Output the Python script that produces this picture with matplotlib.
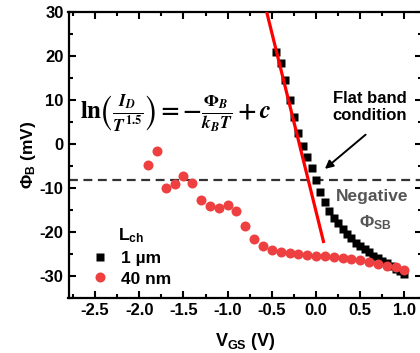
import numpy as np
import matplotlib
matplotlib.use('Agg')
import matplotlib.pyplot as plt
from matplotlib.ticker import MultipleLocator

plt.rcParams['font.family'] = ['Liberation Sans', 'DejaVu Sans']
plt.rcParams['font.weight'] = 'bold'
plt.rcParams['axes.labelweight'] = 'bold'
plt.rcParams['axes.unicode_minus'] = False
plt.rcParams['mathtext.fontset'] = 'custom'
plt.rcParams['mathtext.rm'] = 'Liberation Sans:bold'
plt.rcParams['mathtext.bf'] = 'Liberation Sans:bold'
plt.rcParams['mathtext.it'] = 'Liberation Sans:bold:italic'
plt.rcParams['mathtext.default'] = 'rm'

# 1 um channel
vgs_1um = [-0.45, -0.40, -0.35, -0.30, -0.25, -0.20, -0.15, -0.10, -0.05, 0.00,
           0.05, 0.10, 0.15, 0.20, 0.25, 0.30, 0.35, 0.40, 0.45, 0.50,
           0.55, 0.60, 0.65, 0.70, 0.75, 0.80, 0.85, 0.90, 0.95, 1.00]
phi_1um = [21.0, 18.3, 14.5, 10.0, 6.0, 2.5, -0.5, -3.0, -5.5, -8.3,
           -11.0, -13.3, -15.2, -16.8, -18.0, -19.4, -20.5, -21.5, -22.5, -23.3,
           -24.0, -24.7, -25.4, -26.0, -26.6, -27.2, -27.8, -28.4, -28.9, -29.5]

# 40 nm channel
vgs_40nm = [-1.9, -1.8, -1.7, -1.6, -1.5, -1.4, -1.3, -1.2, -1.1, -1.0,
            -0.9, -0.8, -0.7, -0.6, -0.5, -0.4, -0.3, -0.2, -0.1, 0.0,
            0.1, 0.2, 0.3, 0.4, 0.5, 0.6, 0.7, 0.8, 0.9, 1.0]
phi_40nm = [-4.8, -1.6, -10.1, -9.1, -7.3, -8.9, -12.7, -14.2, -14.6, -13.9,
            -15.2, -18.6, -21.6, -23.3, -24.2, -24.7, -24.8, -25.0, -25.2, -25.45,
            -25.6, -25.8, -26.0, -26.2, -26.5, -26.9, -27.3, -27.7, -28.1, -28.6]

# linear fit and flat band level
fit_x = [-0.558, 0.084]
fit_y = [30.0, -22.2]
flat_band = -8.2

fig = plt.figure(figsize=(4.2, 3.53), dpi=100)
ax = fig.add_axes([68.5 / 420, 55.3 / 353, 353.6 / 420, 285.7 / 353])

ax.axhline(flat_band, color='#333333', lw=1.6, ls=(0, (4, 2.5)), zorder=1)
ax.plot(vgs_1um, phi_1um, 's', color='black', ms=5.8, mec='none', label='1 µm', zorder=3)
ax.plot(vgs_40nm, phi_40nm, 'o', color='#ee4040', ms=7.2, mec='none', label='40 nm', zorder=4)
ax.plot(fit_x, fit_y, color='red', lw=2.3, zorder=5)

ax.set_xlim(-2.8, 1.2)
ax.set_ylim(-35, 30)
ax.xaxis.set_major_locator(MultipleLocator(0.5))
ax.xaxis.set_minor_locator(MultipleLocator(0.25))
ax.yaxis.set_major_locator(MultipleLocator(10))
ax.yaxis.set_minor_locator(MultipleLocator(5))
ax.tick_params(which='both', direction='in', top=True, right=True, width=1.5, labelsize=12)
ax.tick_params(which='major', length=5)
ax.tick_params(which='minor', length=3)
for lbl in ax.get_xticklabels() + ax.get_yticklabels():
    lbl.set_fontweight('bold')
for s in ax.spines.values():
    s.set_linewidth(1.6)

ax.set_xlabel('V$_{GS}$ (V)', fontsize=13, fontweight='bold', labelpad=10)
ax.set_ylabel('Φ$_{B}$ (mV)', fontsize=12.5, fontweight='bold', labelpad=1)

ax.text(80 / 420, 1 - 113 / 353,
        r'$\mathbf{ln}\left(\frac{\mathit{I_D}}{\mathit{T}^{1.5}}\right)=-\frac{\mathit{\Phi_B}}{\mathit{k_BT}}+\mathit{c}$',
        transform=fig.transFigure, fontsize=18, ha='left', va='center',
        math_fontfamily='stix')

ax.text(0.19, 8.4, 'Flat band\ncondition', fontsize=12, ha='left', va='center',
        linespacing=1.1)
ax.annotate('', xy=(0.076, -6.1), xytext=(0.585, 2.5),
            arrowprops=dict(arrowstyle='-|>', color='black', lw=1.4, mutation_scale=12))
ax.text(0.64, -12.0, 'Negative', fontsize=12.5, ha='center', va='center', color='#555555')
ax.text(0.67, -17.9, 'Φ$_{SB}$', fontsize=12.5, ha='center', va='center', color='#555555')

leg = ax.legend(loc='upper left', bbox_to_anchor=(85 / 420, 1 - 220 / 353),
                bbox_transform=fig.transFigure, frameon=False, fontsize=12.5,
                title='L$_{ch}$', title_fontsize=12.5, handlelength=1.0,
                handletextpad=0.7, labelspacing=0.33, borderpad=0.35, borderaxespad=0)
leg.get_title().set_fontweight('bold')

fig.savefig('out.png', dpi=100)
